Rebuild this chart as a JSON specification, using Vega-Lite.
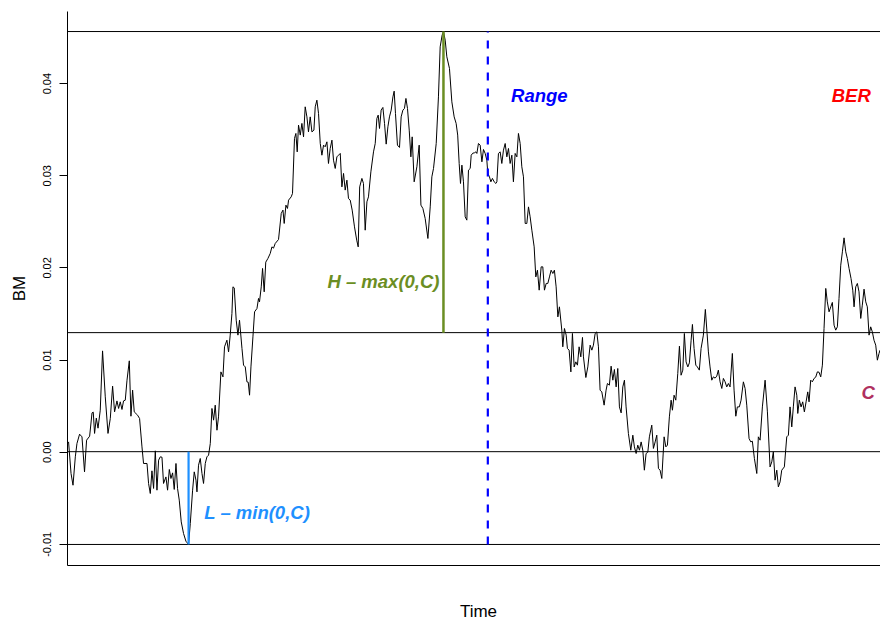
{
  "$schema": "https://vega.github.io/schema/vega-lite/v6.json",
  "autosize": {"type": "none"},
  "padding": {"left": 67, "top": 11, "right": 0, "bottom": 54},
  "width": 813,
  "height": 554,
  "background": "white",
  "config": {"view": {"stroke": null}, "axis": {"grid": false}, "font": "Liberation Sans"},
  "datasets": {
    "path": [
      {"t":0,"bm":0.00089},{"t":0.0019,"bm":0.00106},{"t":0.0049,"bm":-0.00237},{"t":0.0073,"bm":-0.00364},{"t":0.0101,"bm":-0.00056},{"t":0.0121,"bm":0.00089},{"t":0.0153,"bm":0.0019},{"t":0.0182,"bm":0.00161},{"t":0.0213,"bm":-0.00219},{"t":0.0238,"bm":0.00125},{"t":0.0275,"bm":0.00168},{"t":0.0304,"bm":0.00421},{"t":0.0319,"bm":0.00429},{"t":0.0335,"bm":0.00198},{"t":0.0356,"bm":0.00364},{"t":0.0377,"bm":0.00255},{"t":0.0404,"bm":0.0045},{"t":0.0432,"bm":0.01094},{"t":0.0465,"bm":0.00595},{"t":0.0498,"bm":0.00198},{"t":0.0526,"bm":0.0036},{"t":0.0554,"bm":0.00711},{"t":0.0578,"bm":0.00432},{"t":0.0607,"bm":0.00551},{"t":0.0627,"bm":0.00469},{"t":0.0647,"bm":0.00541},{"t":0.0668,"bm":0.00458},{"t":0.0687,"bm":0.00551},{"t":0.0708,"bm":0.00559},{"t":0.0729,"bm":0.00776},{"t":0.0757,"bm":0.00986},{"t":0.0777,"bm":0.00385},{"t":0.0797,"bm":0.00668},{"t":0.0817,"bm":0.00432},{"t":0.0858,"bm":0.00396},{"t":0.0882,"bm":0.0036},{"t":0.0911,"bm":0.00052},{"t":0.093,"bm":-0.00128},{"t":0.0972,"bm":-0.00128},{"t":0.0991,"bm":-0.00345},{"t":0.1012,"bm":-0.00454},{"t":0.1032,"bm":-0.00208},{"t":0.1052,"bm":-0.00399},{"t":0.1073,"bm":0.00009},{"t":0.1093,"bm":-0.00418},{"t":0.1113,"bm":-0.00092},{"t":0.1133,"bm":-0.00056},{"t":0.1154,"bm":-0.0006},{"t":0.1173,"bm":-0.00345},{"t":0.1202,"bm":-0.00274},{"t":0.1222,"bm":-0.00418},{"t":0.1243,"bm":-0.00193},{"t":0.1263,"bm":-0.00291},{"t":0.1283,"bm":-0.0023},{"t":0.1303,"bm":-0.0041},{"t":0.1324,"bm":-0.00128},{"t":0.1343,"bm":-0.00399},{"t":0.1364,"bm":-0.00526},{"t":0.1388,"bm":-0.00762},{"t":0.1416,"bm":-0.00888},{"t":0.1445,"bm":-0.00972},{"t":0.1477,"bm":-0.01007},{"t":0.1498,"bm":-0.00779},{"t":0.1526,"bm":-0.00418},{"t":0.1546,"bm":-0.00219},{"t":0.1567,"bm":-0.00309},{"t":0.1579,"bm":-0.00436},{"t":0.1598,"bm":-0.00147},{"t":0.1619,"bm":-0.00074},{"t":0.164,"bm":-0.00237},{"t":0.1659,"bm":-0.00345},{"t":0.168,"bm":-0.00128},{"t":0.17,"bm":-0.00056},{"t":0.172,"bm":-0.00038},{"t":0.1741,"bm":0.00089},{"t":0.1761,"bm":0.00469},{"t":0.1781,"bm":0.00342},{"t":0.1801,"bm":0.00505},{"t":0.1822,"bm":0.00233},{"t":0.1841,"bm":0.00378},{"t":0.187,"bm":0.00866},{"t":0.1895,"bm":0.00812},{"t":0.1914,"bm":0.01138},{"t":0.1943,"bm":0.0121},{"t":0.1963,"bm":0.01083},{"t":0.1983,"bm":0.01265},{"t":0.2004,"bm":0.015},{"t":0.2016,"bm":0.01789},{"t":0.2032,"bm":0.01778},{"t":0.2056,"bm":0.01427},{"t":0.2077,"bm":0.01265},{"t":0.2096,"bm":0.01427},{"t":0.2126,"bm":0.0112},{"t":0.2145,"bm":0.00939},{"t":0.2166,"bm":0.0092},{"t":0.2186,"bm":0.00758},{"t":0.2202,"bm":0.00754},{"t":0.2218,"bm":0.00613},{"t":0.2235,"bm":0.0092},{"t":0.2259,"bm":0.01246},{"t":0.2279,"bm":0.01518},{"t":0.2308,"bm":0.01554},{"t":0.2327,"bm":0.01663},{"t":0.2339,"bm":0.01626},{"t":0.236,"bm":0.01789},{"t":0.2376,"bm":0.01989},{"t":0.2396,"bm":0.01735},{"t":0.2415,"bm":0.02057},{"t":0.2441,"bm":0.02097},{"t":0.2469,"bm":0.02151},{"t":0.249,"bm":0.02223},{"t":0.2509,"bm":0.02209},{"t":0.253,"bm":0.0226},{"t":0.257,"bm":0.02303},{"t":0.2603,"bm":0.02586},{"t":0.2624,"bm":0.02622},{"t":0.2639,"bm":0.02477},{"t":0.266,"bm":0.02676},{"t":0.2679,"bm":0.0264},{"t":0.2692,"bm":0.0273},{"t":0.2724,"bm":0.02766},{"t":0.274,"bm":0.02803},{"t":0.2764,"bm":0.034},{"t":0.2781,"bm":0.03454},{"t":0.2797,"bm":0.03254},{"t":0.2813,"bm":0.03544},{"t":0.2834,"bm":0.03436},{"t":0.2854,"bm":0.03563},{"t":0.2874,"bm":0.03417},{"t":0.2894,"bm":0.03743},{"t":0.2915,"bm":0.03634},{"t":0.2934,"bm":0.03471},{"t":0.2955,"bm":0.03634},{"t":0.2976,"bm":0.03471},{"t":0.3,"bm":0.0349},{"t":0.3016,"bm":0.03743},{"t":0.3036,"bm":0.03815},{"t":0.3056,"bm":0.03671},{"t":0.3077,"bm":0.03345},{"t":0.3097,"bm":0.03218},{"t":0.3117,"bm":0.03327},{"t":0.3137,"bm":0.03309},{"t":0.3158,"bm":0.03363},{"t":0.3177,"bm":0.03128},{"t":0.3198,"bm":0.03291},{"t":0.3219,"bm":0.03381},{"t":0.3238,"bm":0.03164},{"t":0.3259,"bm":0.03074},{"t":0.3279,"bm":0.032},{"t":0.3299,"bm":0.03218},{"t":0.332,"bm":0.03237},{"t":0.334,"bm":0.02874},{"t":0.336,"bm":0.0302},{"t":0.338,"bm":0.02839},{"t":0.3401,"bm":0.02947},{"t":0.342,"bm":0.02748},{"t":0.3441,"bm":0.0273},{"t":0.3465,"bm":0.02622},{"t":0.3493,"bm":0.0244},{"t":0.352,"bm":0.02296},{"t":0.3538,"bm":0.02223},{"t":0.3556,"bm":0.02874},{"t":0.3583,"bm":0.02966},{"t":0.3602,"bm":0.02911},{"t":0.3623,"bm":0.02404},{"t":0.3644,"bm":0.02712},{"t":0.3663,"bm":0.02766},{"t":0.3692,"bm":0.03037},{"t":0.3724,"bm":0.03254},{"t":0.3745,"bm":0.03345},{"t":0.3765,"bm":0.03617},{"t":0.3781,"bm":0.03653},{"t":0.3797,"bm":0.03508},{"t":0.3817,"bm":0.03707},{"t":0.3838,"bm":0.03736},{"t":0.3858,"bm":0.03563},{"t":0.3878,"bm":0.03338},{"t":0.3899,"bm":0.03526},{"t":0.3918,"bm":0.03634},{"t":0.3939,"bm":0.03707},{"t":0.396,"bm":0.03851},{"t":0.3975,"bm":0.03913},{"t":0.3991,"bm":0.03671},{"t":0.4015,"bm":0.03327},{"t":0.404,"bm":0.03302},{"t":0.406,"bm":0.03634},{"t":0.4081,"bm":0.03707},{"t":0.41,"bm":0.03725},{"t":0.4118,"bm":0.03834},{"t":0.4137,"bm":0.03725},{"t":0.4158,"bm":0.0349},{"t":0.4178,"bm":0.032},{"t":0.4194,"bm":0.03417},{"t":0.4218,"bm":0.02929},{"t":0.4251,"bm":0.03092},{"t":0.4279,"bm":0.03327},{"t":0.43,"bm":0.02676},{"t":0.4324,"bm":0.0264},{"t":0.4352,"bm":0.02531},{"t":0.4385,"bm":0.02314},{"t":0.4413,"bm":0.02657},{"t":0.4433,"bm":0.02983},{"t":0.4453,"bm":0.03074},{"t":0.4486,"bm":0.03345},{"t":0.4513,"bm":0.03851},{"t":0.4534,"bm":0.04394},{"t":0.4558,"bm":0.04521},{"t":0.4574,"bm":0.0456},{"t":0.4595,"bm":0.04467},{"t":0.4615,"bm":0.04286},{"t":0.4647,"bm":0.0416},{"t":0.4676,"bm":0.03797},{"t":0.4704,"bm":0.03634},{"t":0.4728,"bm":0.03563},{"t":0.4747,"bm":0.03436},{"t":0.4765,"bm":0.03128},{"t":0.4781,"bm":0.02911},{"t":0.4798,"bm":0.0311},{"t":0.4817,"bm":0.02929},{"t":0.4838,"bm":0.02549},{"t":0.4858,"bm":0.02513},{"t":0.4878,"bm":0.03056},{"t":0.4899,"bm":0.03074},{"t":0.4911,"bm":0.03218},{"t":0.4931,"bm":0.0324},{"t":0.4951,"bm":0.03244},{"t":0.4968,"bm":0.03254},{"t":0.498,"bm":0.03237},{"t":0.4999,"bm":0.03345},{"t":0.502,"bm":0.03327},{"t":0.5041,"bm":0.03146},{"t":0.506,"bm":0.0328},{"t":0.5081,"bm":0.03237},{"t":0.5101,"bm":0.03164},{"t":0.5113,"bm":0.0302},{"t":0.5133,"bm":0.02983},{"t":0.515,"bm":0.02929},{"t":0.5169,"bm":0.02966},{"t":0.519,"bm":0.02929},{"t":0.5211,"bm":0.02911},{"t":0.5223,"bm":0.02929},{"t":0.5242,"bm":0.03237},{"t":0.5263,"bm":0.03254},{"t":0.5283,"bm":0.03128},{"t":0.5303,"bm":0.03273},{"t":0.5324,"bm":0.03345},{"t":0.5344,"bm":0.032},{"t":0.5364,"bm":0.03291},{"t":0.5384,"bm":0.03128},{"t":0.5405,"bm":0.03218},{"t":0.5424,"bm":0.02929},{"t":0.5445,"bm":0.03237},{"t":0.5466,"bm":0.032},{"t":0.5485,"bm":0.03454},{"t":0.5506,"bm":0.03345},{"t":0.5526,"bm":0.03092},{"t":0.5546,"bm":0.02983},{"t":0.5567,"bm":0.02477},{"t":0.5587,"bm":0.02477},{"t":0.5607,"bm":0.02657},{"t":0.5627,"bm":0.02549},{"t":0.5648,"bm":0.02404},{"t":0.5676,"bm":0.02223},{"t":0.5696,"bm":0.01897},{"t":0.5716,"bm":0.0197},{"t":0.5737,"bm":0.01753},{"t":0.5761,"bm":0.02006},{"t":0.5781,"bm":0.02006},{"t":0.5801,"bm":0.01753},{"t":0.5822,"bm":0.01826},{"t":0.5842,"bm":0.01826},{"t":0.5862,"bm":0.01897},{"t":0.5882,"bm":0.0197},{"t":0.5903,"bm":0.01934},{"t":0.5922,"bm":0.0197},{"t":0.5943,"bm":0.01789},{"t":0.5964,"bm":0.01463},{"t":0.5983,"bm":0.01572},{"t":0.6012,"bm":0.01319},{"t":0.6024,"bm":0.01138},{"t":0.6044,"bm":0.01337},{"t":0.6065,"bm":0.01265},{"t":0.608,"bm":0.0112},{"t":0.6101,"bm":0.01102},{"t":0.6122,"bm":0.00866},{"t":0.6141,"bm":0.01283},{"t":0.6162,"bm":0.0092},{"t":0.6182,"bm":0.00975},{"t":0.6202,"bm":0.00939},{"t":0.6222,"bm":0.01138},{"t":0.6243,"bm":0.01029},{"t":0.6263,"bm":0.0124},{"t":0.6275,"bm":0.01029},{"t":0.6304,"bm":0.00805},{"t":0.6328,"bm":0.0092},{"t":0.6356,"bm":0.01156},{"t":0.6377,"bm":0.01102},{"t":0.6396,"bm":0.01156},{"t":0.6417,"bm":0.01283},{"t":0.6437,"bm":0.013},{"t":0.6457,"bm":0.01138},{"t":0.6477,"bm":0.00668},{"t":0.6498,"bm":0.00649},{"t":0.6526,"bm":0.00505},{"t":0.655,"bm":0.00668},{"t":0.6566,"bm":0.0074},{"t":0.659,"bm":0.00722},{"t":0.6611,"bm":0.00928},{"t":0.6632,"bm":0.00776},{"t":0.6651,"bm":0.00892},{"t":0.6672,"bm":0.00703},{"t":0.6692,"bm":0.00903},{"t":0.6712,"bm":0.00486},{"t":0.6733,"bm":0.00421},{"t":0.6753,"bm":0.00703},{"t":0.6773,"bm":0.00776},{"t":0.6793,"bm":0.00486},{"t":0.6821,"bm":0.00198},{"t":0.685,"bm":0.00016},{"t":0.6875,"bm":0.00179},{"t":0.6894,"bm":0.00052},{"t":0.6915,"bm":-0.0002},{"t":0.6935,"bm":0.00071},{"t":0.6955,"bm":0.00016},{"t":0.6976,"bm":0.00106},{"t":0.6996,"bm":0.00016},{"t":0.7015,"bm":-0.00201},{"t":0.7036,"bm":-0.0002},{"t":0.7057,"bm":-0.00005},{"t":0.7076,"bm":0.00161},{"t":0.7105,"bm":0.00288},{"t":0.7125,"bm":0.00035},{"t":0.7146,"bm":0.00106},{"t":0.7166,"bm":0.00179},{"t":0.7186,"bm":-0.00182},{"t":0.7206,"bm":-0.00201},{"t":0.7227,"bm":-0.00291},{"t":0.7255,"bm":0.00161},{"t":0.7276,"bm":0.00052},{"t":0.7295,"bm":0.00071},{"t":0.7319,"bm":0.00378},{"t":0.734,"bm":0.00559},{"t":0.7356,"bm":0.0045},{"t":0.7376,"bm":0.00613},{"t":0.7397,"bm":0.00559},{"t":0.7421,"bm":0.00849},{"t":0.7441,"bm":0.01145},{"t":0.7461,"bm":0.0083},{"t":0.7482,"bm":0.00885},{"t":0.7501,"bm":0.01283},{"t":0.7522,"bm":0.00975},{"t":0.7543,"bm":0.0092},{"t":0.7562,"bm":0.00964},{"t":0.7583,"bm":0.0121},{"t":0.7599,"bm":0.01381},{"t":0.7619,"bm":0.0112},{"t":0.764,"bm":0.00939},{"t":0.7659,"bm":0.0092},{"t":0.7683,"bm":0.00885},{"t":0.7704,"bm":0.0112},{"t":0.7732,"bm":0.01265},{"t":0.7756,"bm":0.01544},{"t":0.7777,"bm":0.01283},{"t":0.7793,"bm":0.01083},{"t":0.7813,"bm":0.0092},{"t":0.7834,"bm":0.00776},{"t":0.7854,"bm":0.00812},{"t":0.7874,"bm":0.00798},{"t":0.7895,"bm":0.0082},{"t":0.7914,"bm":0.00885},{"t":0.7935,"bm":0.00758},{"t":0.7956,"bm":0.00686},{"t":0.7975,"bm":0.00795},{"t":0.7996,"bm":0.00758},{"t":0.8016,"bm":0.00703},{"t":0.8036,"bm":0.0074},{"t":0.8056,"bm":0.00703},{"t":0.8084,"bm":0.01066},{"t":0.8105,"bm":0.00668},{"t":0.8126,"bm":0.00385},{"t":0.8145,"bm":0.00486},{"t":0.8169,"bm":0.00486},{"t":0.819,"bm":0.00559},{"t":0.8218,"bm":0.00758},{"t":0.8239,"bm":0.00686},{"t":0.8259,"bm":0.00505},{"t":0.8287,"bm":0.00143},{"t":0.8308,"bm":0.00106},{"t":0.8327,"bm":0.00114},{"t":0.8352,"bm":-0.00074},{"t":0.8381,"bm":-0.00237},{"t":0.84,"bm":0.00161},{"t":0.8421,"bm":0.00125},{"t":0.8449,"bm":0.00486},{"t":0.8482,"bm":0.00776},{"t":0.851,"bm":0.00432},{"t":0.8542,"bm":-0.00165},{"t":0.8563,"bm":-0.00111},{"t":0.8582,"bm":-0.00002},{"t":0.8603,"bm":-0.00309},{"t":0.8624,"bm":-0.00201},{"t":0.8643,"bm":-0.00382},{"t":0.8664,"bm":-0.00328},{"t":0.8684,"bm":-0.00201},{"t":0.8716,"bm":-0.00165},{"t":0.8745,"bm":0.00161},{"t":0.8765,"bm":0.00179},{"t":0.8785,"bm":0.00486},{"t":0.8806,"bm":0.00269},{"t":0.8825,"bm":0.00486},{"t":0.8846,"bm":0.00703},{"t":0.8867,"bm":0.00613},{"t":0.8879,"bm":0.00415},{"t":0.8898,"bm":0.00559},{"t":0.8919,"bm":0.00486},{"t":0.8939,"bm":0.00541},{"t":0.8959,"bm":0.00432},{"t":0.898,"bm":0.00541},{"t":0.9,"bm":0.00649},{"t":0.9016,"bm":0.00541},{"t":0.9036,"bm":0.00776},{"t":0.9056,"bm":0.00758},{"t":0.9077,"bm":0.00795},{"t":0.9097,"bm":0.00809},{"t":0.9117,"bm":0.00866},{"t":0.9137,"bm":0.00863},{"t":0.9158,"bm":0.00812},{"t":0.9178,"bm":0.00939},{"t":0.9198,"bm":0.01337},{"t":0.9219,"bm":0.01772},{"t":0.9238,"bm":0.01626},{"t":0.9259,"bm":0.01518},{"t":0.928,"bm":0.01572},{"t":0.9299,"bm":0.0162},{"t":0.932,"bm":0.01373},{"t":0.934,"bm":0.01319},{"t":0.936,"bm":0.01355},{"t":0.938,"bm":0.01663},{"t":0.9401,"bm":0.02024},{"t":0.9421,"bm":0.02169},{"t":0.9441,"bm":0.02321},{"t":0.9462,"bm":0.02169},{"t":0.9481,"bm":0.02097},{"t":0.9502,"bm":0.01989},{"t":0.9526,"bm":0.0188},{"t":0.9547,"bm":0.01753},{"t":0.9563,"bm":0.01572},{"t":0.9583,"bm":0.01789},{"t":0.9603,"bm":0.01826},{"t":0.9623,"bm":0.01735},{"t":0.9644,"bm":0.01446},{"t":0.9663,"bm":0.0159},{"t":0.9684,"bm":0.01764},{"t":0.9705,"bm":0.01626},{"t":0.9724,"bm":0.01572},{"t":0.9745,"bm":0.01265},{"t":0.9765,"bm":0.01355},{"t":0.9785,"bm":0.013},{"t":0.9805,"bm":0.0121},{"t":0.9826,"bm":0.01156},{"t":0.9846,"bm":0.00993},{"t":0.9866,"bm":0.01066},{"t":0.9878,"bm":0.01102}
    ],
    "levels": [
      {"name": "H", "bm": 0.0456},
      {"name": "C", "bm": 0.01292},
      {"name": "zero", "bm": 0},
      {"name": "L", "bm": -0.01007}
    ],
    "segments": [
      {"name": "H - max(0,C)", "t": 0.4574, "lo": 0.01292, "hi": 0.0456, "color": "#6B8E23", "width": 2.5},
      {"name": "L - min(0,C)", "t": 0.1477, "lo": -0.01007, "hi": 0, "color": "#1E90FF", "width": 2.2}
    ],
    "range": [
      {"t": 0.5113, "lo": -0.01007, "hi": 0.0456}
    ],
    "labelsLeft": [
      {"text": "Range", "t": 0.5396, "bm": 0.03862, "color": "#0000FF"},
      {"text": "L – min(0,C)", "t": 0.1668, "bm": -0.00671, "color": "#1E90FF"}
    ],
    "labelsCenter": [
      {"text": "BER", "t": 0.9529, "bm": 0.03862, "color": "#FF0000"},
      {"text": "C", "t": 0.9733, "bm": 0.00638, "color": "#B03060"}
    ],
    "labelsRight": [
      {"text": "H – max(0,C)", "t": 0.4526, "bm": 0.01843, "color": "#6B8E23"}
    ]
  },
  "layer": [
    {
      "data": {"name": "path"},
      "mark": {"type": "line", "color": "#000000", "strokeWidth": 1, "clip": true},
      "encoding": {
        "x": {
          "field": "t", "type": "quantitative",
          "scale": {"domain": [0, 0.9878], "nice": false, "zero": false},
          "axis": {
            "ticks": false, "labels": false, "domainColor": "#000000", "domainWidth": 1, "grid": false,
            "title": "Time", "titleFont": "Liberation Sans", "titleFontSize": 17, "titleFontWeight": "normal",
            "titleColor": "#000000", "titleAlign": "center", "titleBaseline": "alphabetic", "titleX": 411, "titleY": 51
          }
        },
        "y": {
          "field": "bm", "type": "quantitative",
          "scale": {"domain": [-0.0123, 0.04783], "nice": false, "zero": false},
          "axis": {
            "values": [-0.01, 0, 0.01, 0.02, 0.03, 0.04],
            "labelExpr": "replace(format(datum.value, '.2f'), '−', '-')",
            "labelAngle": -90, "labelAlign": "center", "labelBaseline": "alphabetic", "labelFlush": false, "labelOverlap": false,
            "labelFont": "Liberation Sans", "labelFontSize": 11, "labelColor": "#000000", "labelPadding": 9,
            "tickSize": 8, "tickColor": "#000000", "tickWidth": 1, "domainColor": "#000000", "domainWidth": 1, "grid": false,
            "title": "BM", "titleFont": "Liberation Sans", "titleFontSize": 17, "titleFontWeight": "normal", "titleColor": "#000000",
            "titleAngle": -90, "titleAlign": "center", "titleBaseline": "alphabetic", "titleX": -43, "titleY": 277
          }
        }
      }
    },
    {
      "data": {"name": "levels"},
      "mark": {"type": "rule", "color": "#000000", "strokeWidth": 1},
      "encoding": {
        "y": {"field": "bm", "type": "quantitative", "scale": {"domain": [-0.0123, 0.04783], "nice": false, "zero": false}}
      }
    },
    {
      "data": {"name": "segments"},
      "mark": {"type": "rule"},
      "encoding": {
        "x": {"field": "t", "type": "quantitative", "scale": {"domain": [0, 0.9878], "nice": false, "zero": false}},
        "y": {"field": "lo", "type": "quantitative", "scale": {"domain": [-0.0123, 0.04783], "nice": false, "zero": false}},
        "y2": {"field": "hi"},
        "color": {"field": "color", "type": "nominal", "scale": null, "legend": null},
        "strokeWidth": {"field": "width", "type": "quantitative", "scale": null, "legend": null}
      }
    },
    {
      "data": {"name": "range"},
      "mark": {"type": "rule", "color": "#0000FF", "strokeWidth": 2.2, "strokeDash": [8, 8]},
      "encoding": {
        "x": {"field": "t", "type": "quantitative", "scale": {"domain": [0, 0.9878], "nice": false, "zero": false}},
        "y": {"field": "lo", "type": "quantitative", "scale": {"domain": [-0.0123, 0.04783], "nice": false, "zero": false}},
        "y2": {"field": "hi"}
      }
    },
    {
      "data": {"name": "labelsLeft"},
      "mark": {"type": "text", "align": "left", "font": "Liberation Sans", "fontSize": 18.5, "fontWeight": "bold", "fontStyle": "italic", "baseline": "middle"},
      "encoding": {
        "x": {"field": "t", "type": "quantitative", "scale": {"domain": [0, 0.9878], "nice": false, "zero": false}},
        "y": {"field": "bm", "type": "quantitative", "scale": {"domain": [-0.0123, 0.04783], "nice": false, "zero": false}},
        "text": {"field": "text"},
        "color": {"field": "color", "type": "nominal", "scale": null, "legend": null}
      }
    },
    {
      "data": {"name": "labelsCenter"},
      "mark": {"type": "text", "align": "center", "font": "Liberation Sans", "fontSize": 18.5, "fontWeight": "bold", "fontStyle": "italic", "baseline": "middle"},
      "encoding": {
        "x": {"field": "t", "type": "quantitative", "scale": {"domain": [0, 0.9878], "nice": false, "zero": false}},
        "y": {"field": "bm", "type": "quantitative", "scale": {"domain": [-0.0123, 0.04783], "nice": false, "zero": false}},
        "text": {"field": "text"},
        "color": {"field": "color", "type": "nominal", "scale": null, "legend": null}
      }
    },
    {
      "data": {"name": "labelsRight"},
      "mark": {"type": "text", "align": "right", "font": "Liberation Sans", "fontSize": 18.5, "fontWeight": "bold", "fontStyle": "italic", "baseline": "middle"},
      "encoding": {
        "x": {"field": "t", "type": "quantitative", "scale": {"domain": [0, 0.9878], "nice": false, "zero": false}},
        "y": {"field": "bm", "type": "quantitative", "scale": {"domain": [-0.0123, 0.04783], "nice": false, "zero": false}},
        "text": {"field": "text"},
        "color": {"field": "color", "type": "nominal", "scale": null, "legend": null}
      }
    }
  ]
}
